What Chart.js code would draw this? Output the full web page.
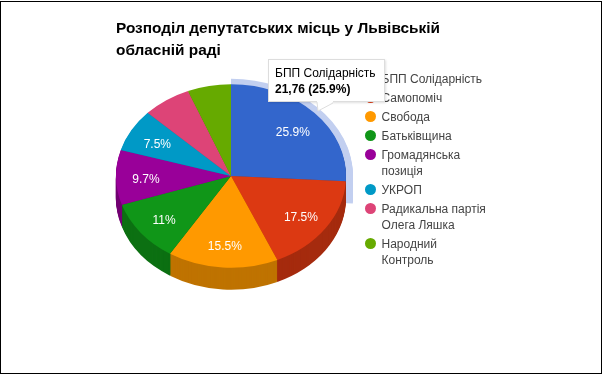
<!DOCTYPE html>
<html>
<head>
<meta charset="utf-8">
<title>Розподіл депутатських місць</title>
<script src="https://cdn.jsdelivr.net/npm/chart.js@4/dist/chart.umd.min.js"></script>
<style>
  html, body { margin: 0; padding: 0; background: #fff; }
  #frame { position: relative; margin-top: 1px; width: 602px; height: 373px; box-sizing: border-box; border: 1px solid #000; overflow: hidden; }
  #chart { position: absolute; left: -1px; top: -2px; }
  #title { position: absolute; left: 115px; top: 15px; font: bold 15.4px/22px "Liberation Sans", Arial, sans-serif; color: #000; white-space: nowrap; }
  #legend { position: absolute; left: 0; top: 0; font: 12px/16px "Liberation Sans", Arial, sans-serif; color: #444; }
  .item { position: absolute; left: 380.5px; white-space: nowrap; }
  .dot { position: absolute; left: -16.5px; top: 2px; width: 11px; height: 11px; border-radius: 50%; }
  #tip { position: absolute; left: 266.5px; top: 57px; width: 117px; height: 43px; box-sizing: border-box; background: #fff; border: 1px solid #ddd; box-shadow: 1px 1px 2px rgba(0,0,0,.12); font: 12px/16px "Liberation Sans", Arial, sans-serif; color: #000; padding: 5px 0 0 6.5px; white-space: nowrap; }
  #tip b { color: #000; }
  #caret { position: absolute; left: 315px; top: 97px; }
</style>
</head>
<body>
<div id="frame">
  <canvas id="chart" width="603" height="377"></canvas>
  <div id="title"></div>
  <div id="legend"></div>
  <div id="tip"></div>
  <svg id="caret" width="26" height="15"><polygon points="1,1 17,1 17,3 2,12 1,3" fill="#fff"/><polyline points="1,3 2,12 17,4" fill="none" stroke="#ddd"/></svg>
</div>
<script>
const titleLines = ['Розподіл депутатських місць у Львівській', 'обласній раді'];
const categories = ['БПП Солідарність', 'Самопоміч', 'Свобода', 'Батьківщина', 'Громадянська позиція', 'УКРОП', 'Радикальна партія Олега Ляшка', 'Народний Контроль'];
const legendLines = [['БПП Солідарність'], ['Самопоміч'], ['Свобода'], ['Батьківщина'], ['Громадянська', 'позиція'], ['УКРОП'], ['Радикальна партія', 'Олега Ляшка'], ['Народний', 'Контроль']];
const legendTops = [71, 90, 109, 128, 147, 182, 201, 236];
const percents = [25.9, 17.5, 15.5, 11, 9.7, 7.5, 6.8, 6.1];
const sliceLabels = ['25.9%', '17.5%', '15.5%', '11%', '9.7%', '7.5%', '', ''];
const colors = ['#3366cc', '#dc3912', '#ff9900', '#109618', '#990099', '#0099c6', '#dd4477', '#66aa00'];
const sideColors = ['#264d99', '#a52b0e', '#bf7300', '#0c7012', '#730073', '#007394', '#a63359', '#4d8000'];
const tipName = 'БПП Солідарність';
const tipValue = '21,76 (25.9%)';

const squash = 0.797;   // tilt of the pie
const depth = 22;       // height of the pie side in px
const ringWidth = 7;
const ringColor = '#c2cff0';

document.getElementById('title').innerHTML = titleLines.join('<br>');
document.getElementById('tip').innerHTML = tipName + '<br><b>' + tipValue + '</b>';

const legend = document.getElementById('legend');
legendLines.forEach((lines, i) => {
  const item = document.createElement('div');
  item.className = 'item';
  item.style.top = (legendTops[i] - 2) + 'px';
  item.innerHTML = '<span class="dot" style="background:' + colors[i] + '"></span>' + lines.join('<br>');
  legend.appendChild(item);
});

function tilt(ctx, cx, cy, offset) {
  ctx.translate(cx, cy + offset);
  ctx.scale(1, squash);
  ctx.translate(-cx, -cy);
}

function sector(ctx, arc, radius, color) {
  ctx.beginPath();
  ctx.moveTo(arc.x, arc.y);
  ctx.arc(arc.x, arc.y, radius, arc.startAngle, arc.endAngle);
  ctx.closePath();
  ctx.fillStyle = color;
  ctx.fill();
}

// Chart.js only draws flat circles, so squash the pie and stack darker layers under it
const tiltedPie = {
  id: 'tiltedPie',
  beforeDatasetsDraw(chart) {
    const ctx = chart.ctx;
    const arcs = chart.getDatasetMeta(0).data;
    const cx = arcs[0].x, cy = arcs[0].y;

    for (let d = depth; d >= 0; d--) {
      ctx.save();
      tilt(ctx, cx, cy, d);
      sector(ctx, arcs[0], arcs[0].outerRadius + ringWidth, ringColor);
      ctx.restore();
    }
    for (let d = depth; d > 0; d--) {
      ctx.save();
      tilt(ctx, cx, cy, d);
      arcs.forEach((arc, i) => sector(ctx, arc, arc.outerRadius, sideColors[i]));
      ctx.restore();
    }
    ctx.save();
    tilt(ctx, cx, cy, 0);
  },
  afterDatasetsDraw(chart) {
    const ctx = chart.ctx;
    ctx.restore();

    ctx.save();
    ctx.font = '12px "Liberation Sans", Arial, sans-serif';
    ctx.fillStyle = '#fff';
    ctx.textAlign = 'center';
    ctx.textBaseline = 'middle';
    chart.getDatasetMeta(0).data.forEach((arc, i) => {
      if (!sliceLabels[i]) return;
      const mid = (arc.startAngle + arc.endAngle) / 2;
      const r = arc.outerRadius * 0.74;
      ctx.fillText(sliceLabels[i], arc.x + r * Math.cos(mid), arc.y + 3 + r * squash * Math.sin(mid));
    });
    ctx.restore();
  }
};

new Chart(document.getElementById('chart').getContext('2d'), {
  type: 'pie',
  data: {
    labels: categories,
    datasets: [{ data: percents, backgroundColor: colors, borderWidth: 0 }],
  },
  options: {
    responsive: false,
    animation: false,
    layout: { padding: { left: 116, right: 257, top: 61, bottom: 86 } },
    plugins: {
      legend: { display: false },
      tooltip: { enabled: false },
    },
  },
  plugins: [tiltedPie],
});
</script>
</body>
</html>
